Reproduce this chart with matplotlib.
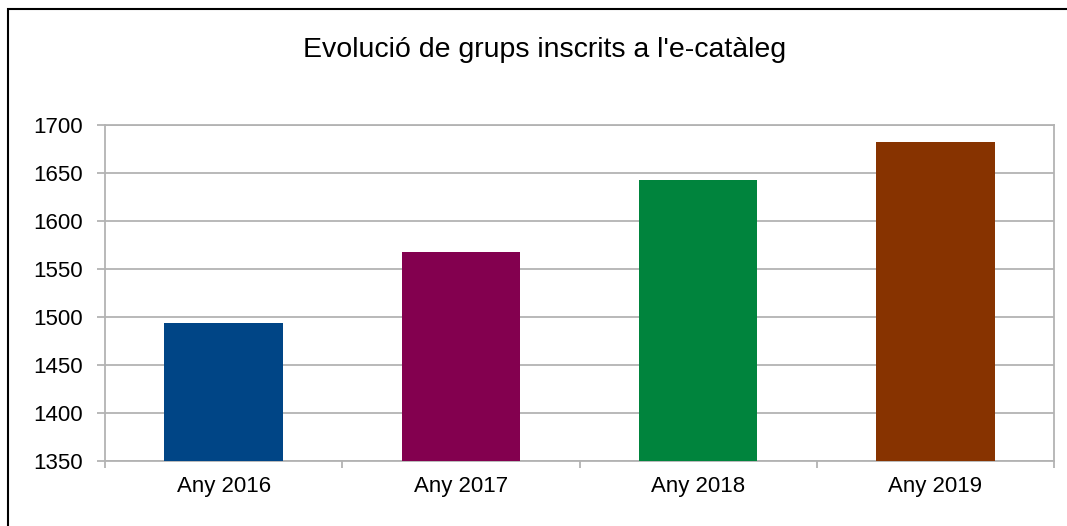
import matplotlib
matplotlib.use("Agg")
from matplotlib import pyplot as plt
from matplotlib.patches import Rectangle

# data
categories = ["Any 2016", "Any 2017", "Any 2018", "Any 2019"]
values = [1493, 1567, 1642, 1682]
bar_colors = ["#004586", "#83004f", "#00843d", "#873300"]
title = "Evolució de grups inscrits a l'e-catàleg"

plt.rcParams['font.family'] = ['Liberation Sans', 'DejaVu Sans']

fig = plt.figure(figsize=(10.67, 5.26), dpi=100)
# plot area in figure fraction
W, H = 1067, 526
left, right, top, bottom = 105, 1054, 124.7, 460.7
ax = fig.add_axes([left / W, 1 - bottom / H, (right - left) / W, (bottom - top) / H])

x = list(range(len(categories)))
ax.bar(x, values, width=0.5, color=bar_colors, zorder=3)

ax.set_xlim(-0.5, len(categories) - 0.5)
ax.set_ylim(1350, 1700)
ax.set_yticks(range(1350, 1701, 50))
ax.grid(axis='y', color='#b3b3b3', linewidth=1.3, zorder=0)

# category labels between tick marks
ax.set_xticks([i - 0.5 for i in range(len(categories) + 1)])
ax.set_xticklabels([])
ax.set_xticks(x, minor=True)
ax.set_xticklabels(categories, minor=True, fontsize=16)
ax.tick_params(axis='x', which='minor', length=0, pad=11)
ax.tick_params(axis='x', which='major', length=5, width=1.3, color='#b3b3b3')
ax.tick_params(axis='y', length=6, width=1.3, color='#b3b3b3', labelsize=16, pad=10)

for s in ax.spines.values():
    s.set_color('#b3b3b3')
    s.set_linewidth(1.3)

fig.text(545 / W, 1 - 50 / H, title, ha='center', va='center', fontsize=20.5)

# outer black frame (only top and left edges fall inside the image)
fig.patches.append(Rectangle((8 / W, -0.05), 1.2, 1.05 - 9 / H, transform=fig.transFigure,
                             fill=False, edgecolor='black', linewidth=1.5))

fig.savefig("out.png", dpi=100)
